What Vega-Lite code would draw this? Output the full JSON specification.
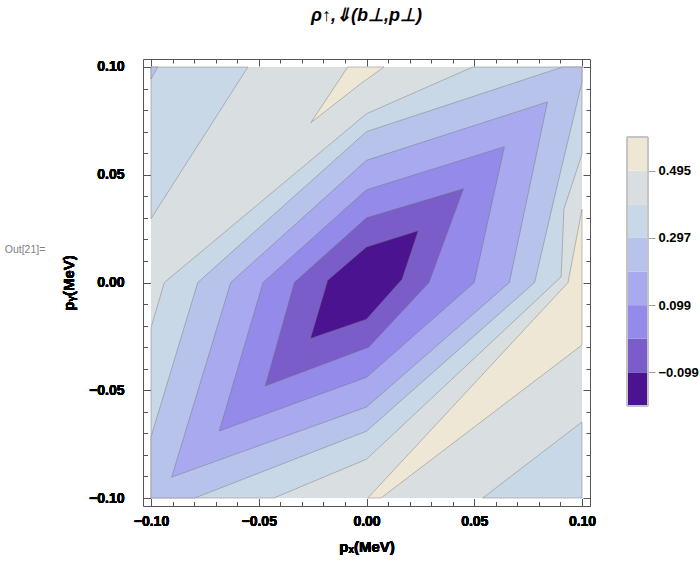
{
  "$schema": "https://vega.github.io/schema/vega-lite/v6.json",
  "background": "white",
  "padding": {"left": 1, "top": 6, "right": 5, "bottom": 5},
  "config": {
    "font": "Liberation Sans",
    "view": {"stroke": null}
  },
  "datasets": {
    "contours": [
      {"band": 0.396, "poly": "g", "i": 0, "x": -0.1, "y": -0.1},
      {"band": 0.396, "poly": "g", "i": 1, "x": 0.1, "y": -0.1},
      {"band": 0.396, "poly": "g", "i": 2, "x": 0.1, "y": 0.1},
      {"band": 0.396, "poly": "g", "i": 3, "x": -0.1, "y": 0.1},

      {"band": 0.495, "poly": "e1", "i": 0, "x": -0.0087, "y": 0.1},
      {"band": 0.495, "poly": "e1", "i": 1, "x": -0.0258, "y": 0.0742},
      {"band": 0.495, "poly": "e1", "i": 2, "x": -0.0026, "y": 0.0923},
      {"band": 0.495, "poly": "e1", "i": 3, "x": 0.0081, "y": 0.1},

      {"band": 0.495, "poly": "e2", "i": 0, "x": 0.1, "y": 0.034},
      {"band": 0.495, "poly": "e2", "i": 1, "x": 0.0935, "y": 0.0},
      {"band": 0.495, "poly": "e2", "i": 2, "x": 0.0006, "y": -0.1},
      {"band": 0.495, "poly": "e2", "i": 3, "x": 0.0067, "y": -0.1},
      {"band": 0.495, "poly": "e2", "i": 4, "x": 0.1, "y": -0.029},

      {"band": 0.297, "poly": "c1", "i": 0, "x": -0.1, "y": -0.021},
      {"band": 0.297, "poly": "c1", "i": 1, "x": -0.0938, "y": 0.0},
      {"band": 0.297, "poly": "c1", "i": 2, "x": 0.0, "y": 0.0783},
      {"band": 0.297, "poly": "c1", "i": 3, "x": 0.0493, "y": 0.1},
      {"band": 0.297, "poly": "c1", "i": 4, "x": 0.1, "y": 0.1},
      {"band": 0.297, "poly": "c1", "i": 5, "x": 0.1, "y": 0.0596},
      {"band": 0.297, "poly": "c1", "i": 6, "x": 0.0916, "y": 0.0341},
      {"band": 0.297, "poly": "c1", "i": 7, "x": 0.0903, "y": 0.0026},
      {"band": 0.297, "poly": "c1", "i": 8, "x": 0.0, "y": -0.082},
      {"band": 0.297, "poly": "c1", "i": 9, "x": -0.043, "y": -0.1},
      {"band": 0.297, "poly": "c1", "i": 10, "x": -0.1, "y": -0.1},

      {"band": 0.297, "poly": "c2", "i": 0, "x": -0.1, "y": 0.1},
      {"band": 0.297, "poly": "c2", "i": 1, "x": -0.055, "y": 0.1},
      {"band": 0.297, "poly": "c2", "i": 2, "x": -0.1, "y": 0.0296},

      {"band": 0.297, "poly": "c3", "i": 0, "x": 0.1, "y": -0.0647},
      {"band": 0.297, "poly": "c3", "i": 1, "x": 0.1, "y": -0.1},
      {"band": 0.297, "poly": "c3", "i": 2, "x": 0.0539, "y": -0.1},

      {"band": 0.198, "poly": "d1", "i": 0, "x": -0.1, "y": -0.0717},
      {"band": 0.198, "poly": "d1", "i": 1, "x": -0.0783, "y": 0.0},
      {"band": 0.198, "poly": "d1", "i": 2, "x": 0.0, "y": 0.07},
      {"band": 0.198, "poly": "d1", "i": 3, "x": 0.091, "y": 0.1},
      {"band": 0.198, "poly": "d1", "i": 4, "x": 0.1, "y": 0.1},
      {"band": 0.198, "poly": "d1", "i": 5, "x": 0.1, "y": 0.093},
      {"band": 0.198, "poly": "d1", "i": 6, "x": 0.0887, "y": 0.0458},
      {"band": 0.198, "poly": "d1", "i": 7, "x": 0.078, "y": 0.0},
      {"band": 0.198, "poly": "d1", "i": 8, "x": 0.0, "y": -0.069},
      {"band": 0.198, "poly": "d1", "i": 9, "x": -0.0797, "y": -0.1},
      {"band": 0.198, "poly": "d1", "i": 10, "x": -0.1, "y": -0.1},

      {"band": 0.198, "poly": "d2", "i": 0, "x": -0.1, "y": 0.1},
      {"band": 0.198, "poly": "d2", "i": 1, "x": -0.0968, "y": 0.1},
      {"band": 0.198, "poly": "d2", "i": 2, "x": -0.1, "y": 0.0944},

      {"band": 0.099, "poly": "f", "i": 0, "x": -0.0904, "y": -0.0903},
      {"band": 0.099, "poly": "f", "i": 1, "x": -0.063, "y": 0.0},
      {"band": 0.099, "poly": "f", "i": 2, "x": 0.0, "y": 0.0567},
      {"band": 0.099, "poly": "f", "i": 3, "x": 0.084, "y": 0.0838},
      {"band": 0.099, "poly": "f", "i": 4, "x": 0.0663, "y": 0.0},
      {"band": 0.099, "poly": "f", "i": 5, "x": 0.0, "y": -0.0578},

      {"band": 0, "poly": "h", "i": 0, "x": -0.0683, "y": -0.0689},
      {"band": 0, "poly": "h", "i": 1, "x": -0.048, "y": 0.0},
      {"band": 0, "poly": "h", "i": 2, "x": 0.0, "y": 0.043},
      {"band": 0, "poly": "h", "i": 3, "x": 0.064, "y": 0.063},
      {"band": 0, "poly": "h", "i": 4, "x": 0.05, "y": 0.0},
      {"band": 0, "poly": "h", "i": 5, "x": 0.0, "y": -0.044},

      {"band": -0.099, "poly": "k", "i": 0, "x": -0.047, "y": -0.048},
      {"band": -0.099, "poly": "k", "i": 1, "x": -0.0335, "y": 0.0},
      {"band": -0.099, "poly": "k", "i": 2, "x": 0.0, "y": 0.03},
      {"band": -0.099, "poly": "k", "i": 3, "x": 0.045, "y": 0.0435},
      {"band": -0.099, "poly": "k", "i": 4, "x": 0.029, "y": 0.0},
      {"band": -0.099, "poly": "k", "i": 5, "x": 0.001, "y": -0.03},

      {"band": -0.198, "poly": "m", "i": 0, "x": -0.026, "y": -0.026},
      {"band": -0.198, "poly": "m", "i": 1, "x": -0.018, "y": 0.001},
      {"band": -0.198, "poly": "m", "i": 2, "x": 0.0, "y": 0.0165},
      {"band": -0.198, "poly": "m", "i": 3, "x": 0.024, "y": 0.024},
      {"band": -0.198, "poly": "m", "i": 4, "x": 0.0165, "y": 0.0015},
      {"band": -0.198, "poly": "m", "i": 5, "x": 0.0, "y": -0.017}
    ],
    "bands": [
      {"band": -0.198, "top": -0.099},
      {"band": -0.099, "top": 0},
      {"band": 0, "top": 0.099},
      {"band": 0.099, "top": 0.198},
      {"band": 0.198, "top": 0.297},
      {"band": 0.297, "top": 0.396},
      {"band": 0.396, "top": 0.495},
      {"band": 0.495, "top": 0.594}
    ],
    "cell": [{"label": "Out[21]="}]
  },
  "bounds": "flush",
  "spacing": 94,
  "hconcat": [
    {
      "width": 48,
      "height": 382,
      "data": {"name": "cell"},
      "mark": {"type": "text", "fontSize": 10.5, "color": "#808080", "font": "Liberation Sans"},
      "encoding": {"text": {"field": "label"}}
    },
    {
      "bounds": "flush",
      "spacing": 37,
      "hconcat": [
        {
          "width": 447,
          "height": 447,
          "title": {
            "text": "ρ↑,⇓(b⊥,p⊥)",
            "font": "Liberation Sans",
            "fontSize": 18,
            "fontWeight": "bold",
            "fontStyle": "italic",
            "color": "black",
            "anchor": "middle",
            "offset": 34
          },
          "view": {"stroke": "#555555", "strokeWidth": 1},
          "data": {"name": "contours"},
          "encoding": {
            "x": {
              "field": "x",
              "type": "quantitative",
              "scale": {"domain": [-0.1037, 0.1037], "nice": false, "zero": false},
              "axis": {
                "orient": "bottom",
                "values": [-0.1, -0.09, -0.08, -0.07, -0.06, -0.05, -0.04, -0.03, -0.02, -0.01, 0, 0.01, 0.02, 0.03, 0.04, 0.05, 0.06, 0.07, 0.08, 0.09, 0.1],
                "labelExpr": "abs(datum.value * 20 - round(datum.value * 20)) < 0.001 ? format(datum.value, '.2f') : ''",
                "tickSize": {"condition": {"test": "abs(datum.value * 20 - round(datum.value * 20)) < 0.001", "value": -7}, "value": -4},
                "tickColor": "#555555",
                "domain": false,
                "grid": false,
                "labelOverlap": false,
                "labelFlush": false,
                "labelBound": false,
                "labelFont": "Liberation Sans",
                "labelFontSize": 14,
                "labelFontWeight": "bold",
                "labelColor": "black",
                "labelPadding": 15,
                "title": "pₓ(MeV)",
                "titleFont": "Liberation Sans",
                "titleFontSize": 15,
                "titleFontWeight": "bold",
                "titleColor": "black",
                "titlePadding": 8
              }
            },
            "y": {
              "field": "y",
              "type": "quantitative",
              "scale": {"domain": [-0.1037, 0.1037], "nice": false, "zero": false},
              "axis": {
                "orient": "left",
                "values": [-0.1, -0.09, -0.08, -0.07, -0.06, -0.05, -0.04, -0.03, -0.02, -0.01, 0, 0.01, 0.02, 0.03, 0.04, 0.05, 0.06, 0.07, 0.08, 0.09, 0.1],
                "labelExpr": "abs(datum.value * 20 - round(datum.value * 20)) < 0.001 ? format(datum.value, '.2f') : ''",
                "tickSize": {"condition": {"test": "abs(datum.value * 20 - round(datum.value * 20)) < 0.001", "value": -7}, "value": -4},
                "tickColor": "#555555",
                "domain": false,
                "grid": false,
                "labelOverlap": false,
                "labelFlush": false,
                "labelBound": false,
                "labelFont": "Liberation Sans",
                "labelFontSize": 14,
                "labelFontWeight": "bold",
                "labelColor": "black",
                "labelPadding": 26,
                "title": "pᵧ(MeV)",
                "titleFont": "Liberation Sans",
                "titleFontSize": 15,
                "titleFontWeight": "bold",
                "titleColor": "black",
                "titlePadding": 12
              }
            },
            "order": {"field": "i", "type": "quantitative"},
            "detail": {"field": "poly"},
            "color": {
              "field": "band",
              "type": "quantitative",
              "scale": {
                "type": "threshold",
                "domain": [-0.099, 0, 0.099, 0.198, 0.297, 0.396, 0.495],
                "range": ["#4c1391", "#7a5dc8", "#948aea", "#a8a9ee", "#b7c3ea", "#c8d8e6", "#d9dee0", "#efe7d6"]
              },
              "legend": null
            }
          },
          "layer": [
            {
              "transform": [{"filter": "datum.band == 0.396"}],
              "mark": {"type": "line", "filled": true, "interpolate": "linear-closed"}
            },
            {
              "transform": [{"filter": "datum.band == 0.495"}],
              "mark": {"type": "line", "filled": true, "interpolate": "linear-closed", "stroke": "#6e6e6e", "strokeWidth": 0.6, "strokeOpacity": 0.7}
            },
            {
              "transform": [{"filter": "datum.band == 0.297"}],
              "mark": {"type": "line", "filled": true, "interpolate": "linear-closed", "stroke": "#6e6e6e", "strokeWidth": 0.6, "strokeOpacity": 0.7}
            },
            {
              "transform": [{"filter": "datum.band == 0.198"}],
              "mark": {"type": "line", "filled": true, "interpolate": "linear-closed", "stroke": "#6e6e6e", "strokeWidth": 0.6, "strokeOpacity": 0.7}
            },
            {
              "transform": [{"filter": "datum.band == 0.099"}],
              "mark": {"type": "line", "filled": true, "interpolate": "linear-closed", "stroke": "#6e6e6e", "strokeWidth": 0.6, "strokeOpacity": 0.7}
            },
            {
              "transform": [{"filter": "datum.band == 0"}],
              "mark": {"type": "line", "filled": true, "interpolate": "linear-closed", "stroke": "#6e6e6e", "strokeWidth": 0.6, "strokeOpacity": 0.7}
            },
            {
              "transform": [{"filter": "datum.band == -0.099"}],
              "mark": {"type": "line", "filled": true, "interpolate": "linear-closed", "stroke": "#6e6e6e", "strokeWidth": 0.6, "strokeOpacity": 0.7}
            },
            {
              "transform": [{"filter": "datum.band == -0.198"}],
              "mark": {"type": "line", "filled": true, "interpolate": "linear-closed", "stroke": "#6e6e6e", "strokeWidth": 0.6, "strokeOpacity": 0.7},
              "encoding": {
                "x": {
                  "field": "x",
                  "type": "quantitative",
                  "axis": {
                    "orient": "top",
                    "values": [-0.1, -0.09, -0.08, -0.07, -0.06, -0.05, -0.04, -0.03, -0.02, -0.01, 0, 0.01, 0.02, 0.03, 0.04, 0.05, 0.06, 0.07, 0.08, 0.09, 0.1],
                    "labels": false,
                    "title": null,
                    "domain": false,
                    "grid": false,
                    "tickColor": "#555555",
                    "tickSize": {"condition": {"test": "abs(datum.value * 20 - round(datum.value * 20)) < 0.001", "value": -7}, "value": -4}
                  }
                },
                "y": {
                  "field": "y",
                  "type": "quantitative",
                  "axis": {
                    "orient": "right",
                    "values": [-0.1, -0.09, -0.08, -0.07, -0.06, -0.05, -0.04, -0.03, -0.02, -0.01, 0, 0.01, 0.02, 0.03, 0.04, 0.05, 0.06, 0.07, 0.08, 0.09, 0.1],
                    "labels": false,
                    "title": null,
                    "domain": false,
                    "grid": false,
                    "tickColor": "#555555",
                    "tickSize": {"condition": {"test": "abs(datum.value * 20 - round(datum.value * 20)) < 0.001", "value": -7}, "value": -4}
                  }
                }
              }
            }
          ],
          "resolve": {"axis": {"x": "independent", "y": "independent"}}
        },
        {
          "width": 21,
          "height": 347,
          "data": {"name": "bands"},
          "layer": [
            {
              "mark": {"type": "rect"},
              "encoding": {
                "y": {
                  "field": "band",
                  "type": "quantitative",
                  "scale": {"domain": [-0.198, 0.8237], "nice": false, "zero": false},
                  "axis": {
                    "orient": "right",
                    "values": [-0.099, 0.099, 0.297, 0.495],
                    "format": ".3f",
                    "domain": false,
                    "grid": false,
                    "ticks": true,
                    "tickSize": 7,
                    "tickColor": "#9a9a9a",
                    "labelPadding": 3,
                    "labelFont": "Liberation Sans",
                    "labelFontSize": 13,
                    "labelFontWeight": "bold",
                    "labelColor": "black",
                    "title": null
                  }
                },
                "y2": {"field": "top"},
                "color": {
                  "field": "band",
                  "type": "quantitative",
                  "scale": {
                    "type": "threshold",
                    "domain": [-0.099, 0, 0.099, 0.198, 0.297, 0.396, 0.495],
                    "range": ["#4c1391", "#7a5dc8", "#948aea", "#a8a9ee", "#b7c3ea", "#c8d8e6", "#d9dee0", "#efe7d6"]
                  },
                  "legend": null
                }
              }
            },
            {
              "mark": {"type": "rect", "fill": null, "stroke": "#c4c4c4", "strokeWidth": 1},
              "encoding": {
                "y": {"datum": -0.198, "type": "quantitative"},
                "y2": {"datum": 0.594}
              }
            }
          ]
        }
      ]
    }
  ]
}
